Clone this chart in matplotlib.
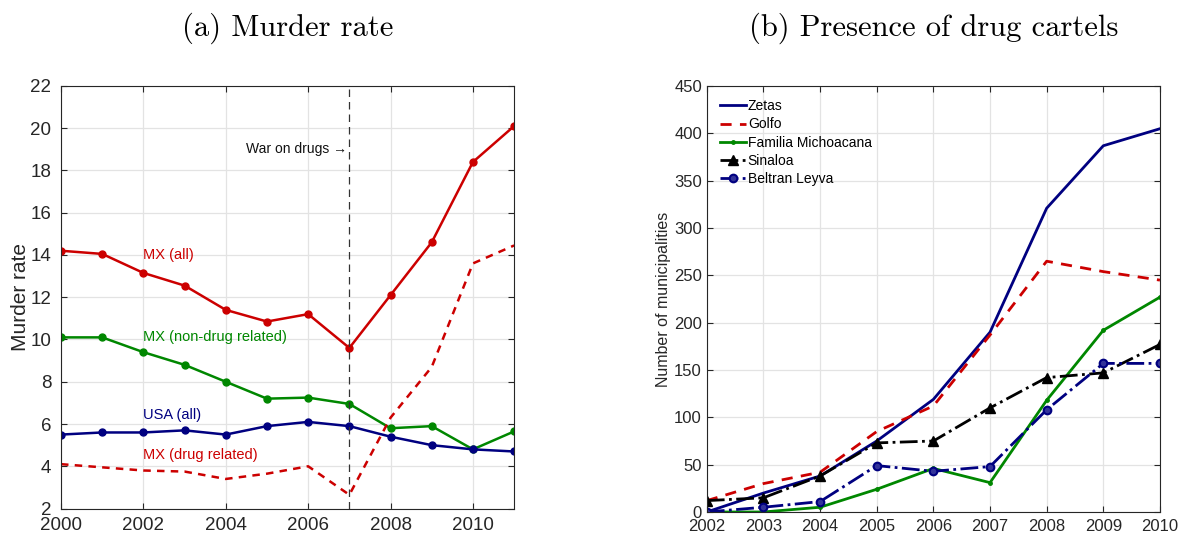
import numpy as np
from matplotlib import pyplot as plt

# (a) murder rate per 100k
years_a = np.arange(2000, 2012)
mx_all = [14.2, 14.05, 13.15, 12.55, 11.4, 10.85, 11.2, 9.6, 12.1, 14.6, 18.4, 20.1]
mx_nondrug = [10.1, 10.1, 9.4, 8.8, 8.0, 7.2, 7.25, 6.95, 5.8, 5.9, 4.8, 5.65]
usa_all = [5.5, 5.6, 5.6, 5.7, 5.5, 5.9, 6.1, 5.9, 5.4, 5.0, 4.8, 4.7]
mx_drug = [4.1, 3.95, 3.8, 3.75, 3.4, 3.65, 4.0, 2.65, 6.3, 8.7, 13.6, 14.45]

# (b) municipalities with cartel presence
years_b = np.arange(2002, 2011)
zetas = [0, 20, 38, 75, 119, 190, 321, 387, 405]
golfo = [12, 30, 42, 85, 112, 187, 265, 254, 245]
familia = [0, 0, 5, 24, 46, 31, 118, 192, 227]
sinaloa = [12, 15, 38, 73, 75, 110, 142, 147, 177]
beltran = [0, 5, 11, 49, 43, 48, 108, 157, 157]

red = (0.8, 0.0, 0.0)
green = (0.0, 0.53, 0.0)
navy = (0.0, 0.0, 0.5)
tick_col = "#262626"

plt.rcParams['font.family'] = ['Liberation Sans', 'DejaVu Sans']

fig = plt.figure(figsize=(11.8, 5.37), dpi=100)
ax1 = fig.add_axes([0.0517, 0.053, 0.384, 0.787])
ax2 = fig.add_axes([0.599, 0.0466, 0.384, 0.793])

for ax in (ax1, ax2):
    ax.grid(True, color="#e3e3e3", linewidth=0.9)
    ax.set_axisbelow(True)
    ax.tick_params(direction="in", top=True, right=True, colors=tick_col,
                   length=4)
    ax.tick_params(axis="x", pad=5)
    for s in ax.spines.values():
        s.set_color(tick_col)
        s.set_linewidth(0.8)

# ---- left
lw = 1.8
ax1.plot(years_a, mx_all, color=red, lw=lw, marker="o", ms=5)
ax1.plot(years_a, mx_nondrug, color=green, lw=lw, marker="o", ms=5)
ax1.plot(years_a, usa_all, color=navy, lw=lw, marker="o", ms=5)
ax1.plot(years_a, mx_drug, color=red, lw=lw, ls=(0, (3, 2.5)))
ax1.axvline(2007, color="#333333", lw=0.9, ls=(0, (6, 4)))
ax1.text(2006.95, 19.0, "War on drugs \u2192", ha="right", va="center",
         fontsize=10, color="#111111")
ax1.text(2002, 13.8, "MX (all)", color=red, fontsize=10.5)
ax1.text(2002, 9.95, "MX (non-drug related)", color=green, fontsize=10.5)
ax1.text(2002, 6.25, "USA (all)", color=navy, fontsize=10.5)
ax1.text(2002, 4.35, "MX (drug related)", color=red, fontsize=10.5)
ax1.set_xlim(2000, 2011)
ax1.set_ylim(2, 22)
ax1.set_xticks(np.arange(2000, 2011, 2))
ax1.set_yticks(np.arange(2, 23, 2))
ax1.tick_params(labelsize=13.5)
ax1.tick_params(axis="x", pad=6)
ax1.tick_params(axis="y", pad=7)
ax1.set_ylabel("Murder rate", fontsize=15, color=tick_col, labelpad=0)
ax1.set_title("(a) Murder rate", family="cmr10", fontsize=22, pad=36)

# ---- right
ax2.plot(years_b, zetas, color=navy, lw=2.0, label="Zetas")
ax2.plot(years_b, golfo, color=red, lw=2.0, ls=(0, (4, 3)), label="Golfo")
ax2.plot(years_b, familia, color=green, lw=2.0, marker=".", ms=5,
         label="Familia Michoacana")
ax2.plot(years_b, sinaloa, color="black", lw=2.0, ls="-.", marker="^", ms=7,
         label="Sinaloa")
ax2.plot(years_b, beltran, color=navy, lw=2.0, ls="-.", marker="o", ms=5.5,
         mfc=(0.2, 0.2, 0.6), mew=1.5, label="Beltran Leyva")
ax2.set_xlim(2002, 2010)
ax2.set_ylim(0, 450)
ax2.set_xticks(years_b)
ax2.set_yticks(np.arange(0, 451, 50))
ax2.tick_params(labelsize=12)
ax2.set_ylabel("Number of municipalities", fontsize=11.5, color=tick_col,
               labelpad=2)
ax2.legend(loc="upper left", frameon=False, fontsize=10, handlelength=1.9,
           handletextpad=0.1, labelspacing=0.3, borderaxespad=0.55)
ax2.set_title("(b) Presence of drug cartels", family="cmr10", fontsize=22,
              pad=36)

plt.savefig("out.png", dpi=100)
